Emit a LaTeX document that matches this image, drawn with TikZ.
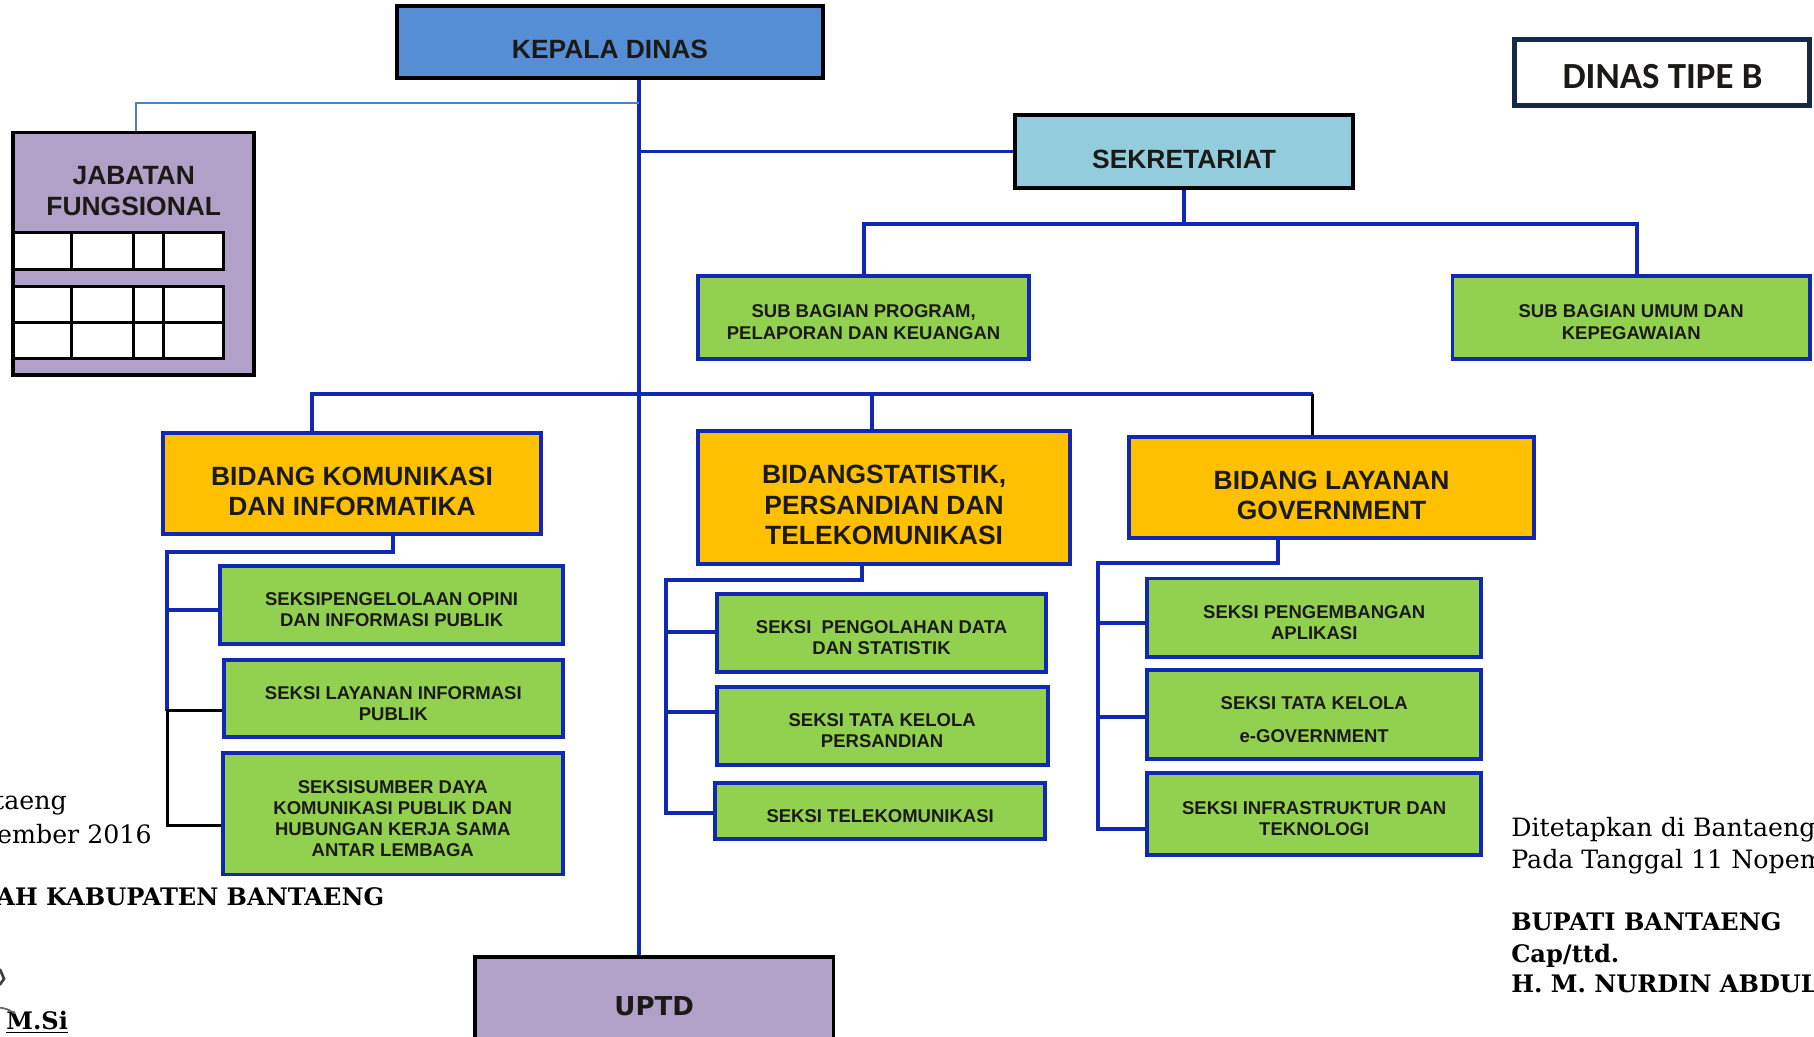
\documentclass[tikz,border=0pt]{standalone}
\usepackage{fontspec}
\setmainfont{Liberation Sans}
\newfontfamily\tipefont{Carlito}
\newfontfamily\uptdfont{DejaVu Sans}
\newfontfamily\ketfont{DejaVu Serif}
\usetikzlibrary{calc}
\definecolor{garis}{RGB}{16,40,180}
\definecolor{garismuda}{RGB}{79,129,189}
\definecolor{kepalabiru}{RGB}{85,142,213}
\definecolor{sekbiru}{RGB}{147,205,221}
\definecolor{ungu}{RGB}{177,160,199}
\definecolor{hijau}{RGB}{146,208,80}
\definecolor{emas}{RGB}{255,192,0}
\definecolor{navy}{RGB}{22,42,72}
\definecolor{tinta}{RGB}{28,26,22}
\newcommand\tj{\rule{0pt}{17.6pt}}
\newcommand\ts{\rule{0pt}{11.7pt}}

\begin{document}
\begin{tikzpicture}[x=0.6pt,y=-0.6pt,
	dims/.style 2 args={minimum width=#1*0.6pt,minimum height=#2*0.6pt},
	kotak/.style={draw=garis,line width=2pt,inner sep=0pt,align=center,text=tinta},
	judul/.style={kotak,font=\fontsize{13.7}{15.9}\selectfont\bfseries},
	atas/.style={judul,draw=black},
	bidang/.style={judul,fill=emas},
	seksi/.style={kotak,fill=hijau,font=\fontsize{9.6}{11}\selectfont\bfseries},
	link/.style={draw=garis,line width=2pt},
	linkhitam/.style={draw=black,line width=1.6pt},
	linkmuda/.style={draw=garismuda,line width=1.2pt},
	sel/.style={draw=black,fill=white,line width=1.6pt},
	ket/.style={font=\ketfont\fontsize{13.1}{16}\selectfont,text=black,inner sep=0pt},
	ketb/.style={ket,font=\ketfont\fontsize{12.5}{16}\selectfont\bfseries}]
	\useasboundingbox (0,0) rectangle (1568,896);
	\clip (0,0) rectangle (1568,896);

	\node[atas,fill=kepalabiru,dims={368}{62}] (kepala) at (527.3,36.3) {\tj KEPALA DINAS};
	\node[draw=navy,line width=2.6pt,fill=white,dims={255}{57},font=\tipefont\fontsize{19.1}{22}\selectfont\bfseries,text=tinta] (tipe) at (1437,62.5) {\rule{0pt}{16.5pt}DINAS TIPE B};
	\node[atas,fill=sekbiru,dims={292}{63}] (sekre) at (1023.5,131) {\tj SEKRETARIAT};
	\node[draw=black,line width=2pt,fill=ungu,dims={208}{210}] (jab) at (115.5,219.5) {};
	\node[font=\fontsize{13.7}{16.4}\selectfont\bfseries,text=tinta,align=center] (jabjudul) at (115.6,165) {JABATAN\\FUNGSIONAL};
	\foreach \xa/\xb in {11.5/62,62/115,115/141.4,141.4/193.5} {
		\draw[sel] (\xa,201) rectangle (\xb,233);
		\draw[sel] (\xa,248) rectangle (\xb,279);
		\draw[sel] (\xa,279) rectangle (\xb,310);
	}

	\node[seksi,dims={286}{72}] (subprog) at (746.5,274.2) {\ts SUB BAGIAN PROGRAM,\\PELAPORAN DAN KEUANGAN};
	\node[seksi,dims={309}{72}] (subumum) at (1410,274.2) {\ts SUB BAGIAN UMUM DAN\\KEPEGAWAIAN};

	\node[bidang,dims={327}{87}] (bkom) at (304.3,418) {\tj BIDANG KOMUNIKASI\\DAN INFORMATIKA};
	\node[bidang,dims={322}{115}] (bstat) at (764.2,429.8) {\tj BIDANGSTATISTIK,\\PERSANDIAN DAN\\TELEKOMUNIKASI};
	\node[bidang,dims={350}{87}] (blay) at (1151,421.4) {\tj BIDANG LAYANAN\\GOVERNMENT};

	\node[seksi,dims={296}{68}] (L1) at (338.5,523) {\ts SEKSIPENGELOLAAN OPINI\\DAN INFORMASI PUBLIK};
	\node[seksi,dims={293}{67}] (L2) at (340,603.8) {\ts SEKSI LAYANAN INFORMASI\\PUBLIK};
	\node[seksi,dims={294}{105}] (L3) at (339.5,703.4) {\ts SEKSISUMBER DAYA\\KOMUNIKASI PUBLIK DAN\\HUBUNGAN KERJA SAMA\\ANTAR LEMBAGA};

	\node[seksi,dims={285}{67}] (M1) at (762,547.2) {\ts SEKSI\ \ PENGOLAHAN DATA\\DAN STATISTIK};
	\node[seksi,dims={286}{68}] (M2) at (762.5,627.5) {\ts SEKSI TATA KELOLA\\PERSANDIAN};
	\node[seksi,dims={285}{49}] (M3) at (760.8,701) {\ts SEKSI TELEKOMUNIKASI};

	\node[seksi,dims={289}{68}] (R1) at (1136,534) {\ts SEKSI PENGEMBANGAN\\APLIKASI};
	\node[seksi,dims={289}{77}] (R2) at (1136,617.6) {\ts SEKSI TATA KELOLA\\[6pt]e-GOVERNMENT};
	\node[seksi,dims={289}{71}] (R3) at (1136,703.6) {\ts SEKSI INFRASTRUKTUR DAN\\TEKNOLOGI};

	\node[draw=black,line width=2pt,fill=ungu,dims={310}{85},font=\uptdfont\fontsize{13.5}{16}\selectfont\bfseries,text=tinta] (uptd) at (565.5,870) {UPTD};

	\coordinate (tiang) at (552,0);
	\draw[link] (kepala.south -| tiang) -- (uptd.north -| tiang);
	\coordinate (jabsiku) at (552,89.3);
	\draw[linkmuda] (jabsiku) -| ($(jab.north)+(2,0)$);
	\draw[link] (sekre.west -| tiang) -- (sekre.west);
	\coordinate (sekbus) at (1023.5,193.6);
	\draw[link] (sekre.south) -- (sekbus);
	\draw[link] (subprog.north) |- (sekbus) -| ($(subumum.north)+(5,0)$);

	\coordinate (tKom) at (270,340.5);
	\coordinate (tStat) at (753.5,340.5);
	\coordinate (tLay) at (1134.6,340.5);
	\draw[link] (tKom |- bkom.north) -- (tKom) -- (tLay);
	\draw[link] (tStat) -- (tStat |- bstat.north);
	\draw[linkhitam] (tLay) -- (tLay |- blay.north);

	\coordinate (kTurun) at (339.4,476.9);
	\coordinate (kA) at (144.6,527);
	\coordinate (kB) at (144.6,614.5);
	\coordinate (kC) at (144.6,713.8);
	\draw[link] (kTurun |- bkom.south) -- (kTurun) -| (kB);
	\draw[link] (kA) -- (kA -| L1.west);
	\draw[linkhitam] (kB -| L2.west) -- (kB) -- (kC) -- (kC -| L3.west);

	\coordinate (sTurun) at (745,501.5);
	\coordinate (sA) at (575.4,546);
	\coordinate (sB) at (575.4,615.4);
	\coordinate (sC) at (575.4,703);
	\draw[link] (sTurun |- bstat.south) -- (sTurun) -| (sC) -- (sC -| M3.west);
	\draw[link] (sA) -- (sA -| M1.west);
	\draw[link] (sB) -- (sB -| M2.west);

	\coordinate (lTurun) at (1105,487);
	\coordinate (lA) at (949,538.2);
	\coordinate (lB) at (949,619.8);
	\coordinate (lC) at (949,716.8);
	\draw[link] (lTurun |- blay.south) -- (lTurun) -| (lC) -- (lC -| R3.west);
	\draw[link] (lA) -- (lA -| R1.west);
	\draw[link] (lB) -- (lB -| R2.west);

	\node[ket,anchor=base east] (kiri1) at (58,699.5) {taeng};
	\node[ket,anchor=base east] (kiri2) at (131.4,728.8) {ember 2016};
	\node[ketb,anchor=base east] (kiri3) at (332.4,783) {AH KABUPATEN BANTAENG};
	\node[ketb,anchor=base west] (kiri4) at (5.2,890) {\underline{M.Si}};
	\draw[line width=1.4pt,black!75,line cap=round] (0,838) -- (3.5,846) -- (0,851);
	\draw[line width=0.9pt,black!60] (0,871) .. controls (6,872) .. (13,876);

	\node[ket,anchor=base west] (kanan1) at (1306,722.9) {Ditetapkan di Bantaeng};
	\node[ket,anchor=base west] (kanan2) at (1306,750.7) {Pada Tanggal 11 Nopem};
	\node[ketb,anchor=base west] (kanan3) at (1306,804.2) {BUPATI BANTAENG};
	\node[ketb,anchor=base west] (kanan4) at (1306,831.7) {Cap/ttd.};
	\node[ketb,anchor=base west] (kanan5) at (1306,857.9) {H. M. NURDIN ABDUL};
\end{tikzpicture}
\end{document}
